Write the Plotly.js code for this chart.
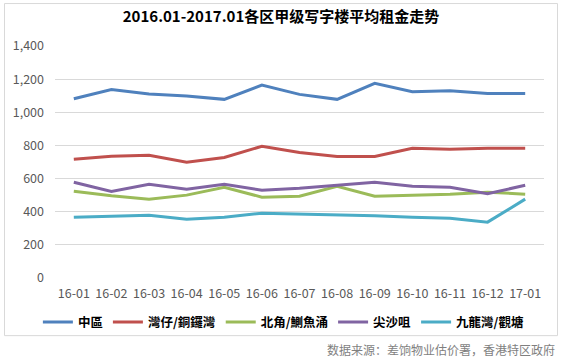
<!DOCTYPE html>
<html>
<head>
<meta charset="utf-8">
<script src="https://cdn.plot.ly/plotly-3.0.1.min.js"></script>
<style>html,body{margin:0;padding:0;background:#fff;}#chart{width:562px;height:358px;}</style>
</head>
<body>
<div id="chart"></div>
<script>
const months = ["16-01","16-02","16-03","16-04","16-05","16-06","16-07","16-08","16-09","16-10","16-11","16-12","17-01"];
const seriesNames = ["中區","灣仔/銅鑼灣","北角/鰂魚涌","尖沙咀","九龍灣/觀塘"];
const central    = [1082,1138,1110,1098,1078,1164,1108,1078,1175,1124,1130,1114,1114];
const wanchai    = [717,735,741,699,727,795,757,733,733,783,777,783,783];
const northPoint = [524,496,476,500,548,488,494,554,494,500,506,518,506];
const tst        = [578,522,566,536,566,530,542,560,578,554,548,508,560];
const kowloonBay = [367,373,379,355,367,391,387,381,375,367,361,337,476];
const colors = ["#4F81BD","#C0504D","#9BBB59","#8064A2","#4BACC6"];
const values = [central, wanchai, northPoint, tst, kowloonBay];

const cjk = '"Noto Sans CJK SC", "Noto Sans", sans-serif';
const traces = values.map((v, i) => ({
  type: 'scatter', mode: 'lines', name: seriesNames[i],
  x: months, y: v,
  line: {color: colors[i], width: 3},
  hoverinfo: 'skip'
}));

const layout = {
  width: 562, height: 358,
  margin: {l: 55, r: 18, t: 46, b: 80, pad: 0},
  paper_bgcolor: '#fff', plot_bgcolor: '#fff',
  font: {family: cjk, size: 12, color: '#595959'},
  title: {text: '<b>2016.01-2017.01各区甲级写字楼平均租金走势</b>', font: {family: cjk, size: 15, color: '#000'}, x: 0.5, xanchor: 'center', y: 1 - 17/358, yanchor: 'middle'},
  xaxis: {type: 'category', range: [-0.5, 12.5], showgrid: false, zeroline: false, showline: false, ticks: '', tickfont: {size: 12.5, color: '#595959'}, ticklabelstandoff: 6, fixedrange: true},
  yaxis: {range: [0, 1400], dtick: 200, tickformat: ',d', showgrid: true, gridcolor: '#D9D9D9', gridwidth: 1, zeroline: false, showline: false, ticks: '', tickfont: {size: 12.5, color: '#595959'}, ticklabelstandoff: 10, fixedrange: true},
  showlegend: true,
  legend: {orientation: 'h', x: -0.035, xanchor: 'left', y: -0.191, yanchor: 'middle', font: {family: cjk, size: 12.5, color: '#000', weight: 'bold'}, bgcolor: 'rgba(0,0,0,0)', itemwidth: 30, tracegroupgap: 0},
  shapes: [{type: 'rect', xref: 'paper', yref: 'paper', x0: -0.1033, x1: 1.0276, y0: -0.2484, y1: 1.183, line: {color: '#D9D9D9', width: 1}, fillcolor: 'rgba(0,0,0,0)', layer: 'below'}],
  annotations: [{text: '数据来源：差饷物业估价署，香港特区政府', xref: 'paper', yref: 'paper', x: 1.0276, xanchor: 'right', y: -0.3087, yanchor: 'middle', showarrow: false, font: {family: cjk, size: 12, color: '#7F7F7F'}}]
};
Plotly.newPlot('chart', traces, layout, {displayModeBar: false, staticPlot: true});
</script>
</body>
</html>
